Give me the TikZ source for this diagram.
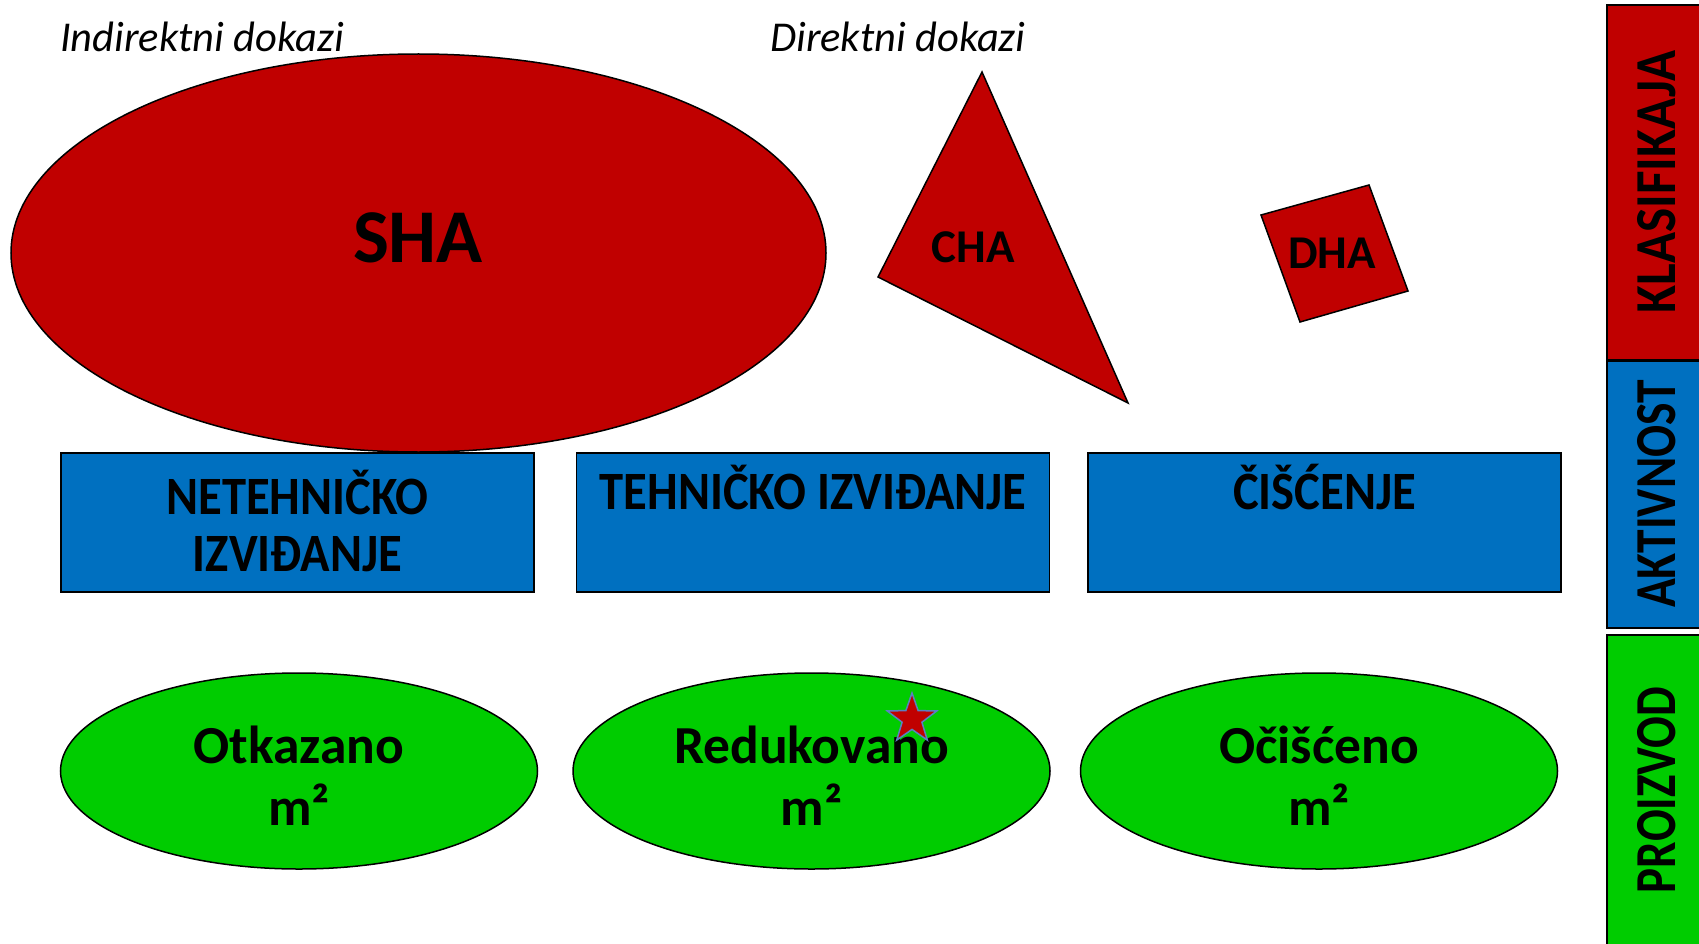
\documentclass[tikz,border=0pt]{standalone}
\usepackage{fontspec}
\setmainfont{Carlito}
\newfontfamily\narrowfont[FakeStretch=0.9]{Carlito}
\usepackage{graphicx}
\usepackage{tikz}
\usetikzlibrary{shapes.geometric}

\definecolor{hazardred}{HTML}{C00000}
\definecolor{actblue}{HTML}{0070C0}
\definecolor{prodgreen}{HTML}{00CC00}
\definecolor{starrim}{HTML}{5B7FC0}

\tikzset{
  hazard/.style={draw=black, line width=1.5pt, fill=hazardred},
  activity/.style={draw=black, line width=1.5pt, fill=actblue, rectangle, inner sep=0pt, minimum width=473pt, minimum height=139pt},
  product/.style={draw=black, line width=1.5pt, fill=prodgreen, ellipse, inner sep=0pt, minimum width=477pt, minimum height=196pt},
  acttext/.style={font=\narrowfont\bfseries\fontsize{54}{57}\selectfont, align=center, inner sep=0pt},
  prodtext/.style={font=\bfseries\fontsize{53.5}{62}\selectfont, align=center, inner sep=0pt},
  sidetext/.style={font=\narrowfont\bfseries\fontsize{58}{58}\selectfont, rotate=90, inner sep=0pt},
  labeltext/.style={font=\itshape\fontsize{42.5}{42.5}\selectfont, anchor=west, inner sep=0pt},
}

\begin{document}
\begin{tikzpicture}[x=1pt, y=-1pt]
    \useasboundingbox[fill=white] (0,0) rectangle (1699,944);
\node[labeltext] (indirect) at (60,37) {Indirektni dokazi}; % label.0
\node[labeltext] (direct) at (770,37) {Direktni dokazi}; % label.1
\node[hazard, ellipse, inner sep=0pt, minimum width=815pt, minimum height=398pt] (sha) at (418.5,253) {}; % Hazard.0
\node[font=\bfseries\fontsize{76}{76}\selectfont] (shatext) at (418,238) {SHA}; % Hazard.0
\draw[hazard] (982,72) -- (878,277) -- (1128,403) -- cycle; % Hazard.1
\node[font=\bfseries\fontsize{47}{47}\selectfont] (cha) at (973,247) {CHA}; % Hazard.1
\draw[hazard] (1261,215) -- (1369,185) -- (1408,291) -- (1300,322) -- cycle; % Hazard.2
\node[font=\bfseries\fontsize{47}{47}\selectfont] (dha) at (1332,253) {DHA}; % Hazard.2
\node[activity] (nts) at (297.5,522.5) {}; % Activity.0
\node[activity] (ts) at (813,522.5) {}; % Activity.1
\node[activity] (clear) at (1324.5,522.5) {}; % Activity.2
\node[acttext] (ntstext) at (297.5,521) {NETEHNIČKO\\IZVIĐANJE}; % Activity.0
\node[acttext, anchor=base] (tstext) at (813,509) {TEHNIČKO IZVIĐANJE}; % Activity.1
\node[acttext, anchor=base] (cleartext) at (1324.5,509) {ČIŠĆENJE}; % Activity.2
\node[product] (cancel) at (299,771) {}; % Product.0
\node[product] (reduce) at (811.5,771) {}; % Product.1
\node[product] (cleared) at (1319,771) {}; % Product.2
\node[prodtext] (canceltext) at (299,776) {Otkazano\\m²}; % Product.0
\node[prodtext] (reducetext) at (811.5,776) {Redukovano\\m²}; % Product.1
\node[prodtext] (clearedtext) at (1319,776) {Očišćeno\\m²}; % Product.2
\node[star, star points=5, star point ratio=2.5, inner sep=0pt, minimum size=52pt, fill=hazardred, draw=starrim, line width=1.5pt] (mark) at (912,719) {}; % Star.0
\draw[line width=1.5pt, fill=hazardred] (1607,5) rectangle (1705,360); % Side.0
\draw[line width=1.5pt, fill=actblue] (1607,361) rectangle (1705,628); % Side.1
\draw[line width=1.5pt, fill=prodgreen] (1607,635) rectangle (1705,950); % Side.2
\node[sidetext] (klas) at (1657,182) {\scalebox{0.98}[1]{KLASIFIKAJA}}; % Side.0
\node[sidetext] (akt) at (1657,494) {\scalebox{0.91}[1]{AKTIVNOST}}; % Side.1
\node[sidetext] (proiz) at (1657,790) {\scalebox{0.9}[1]{PROIZVOD}}; % Side.2
    \end{tikzpicture}
\end{document}
